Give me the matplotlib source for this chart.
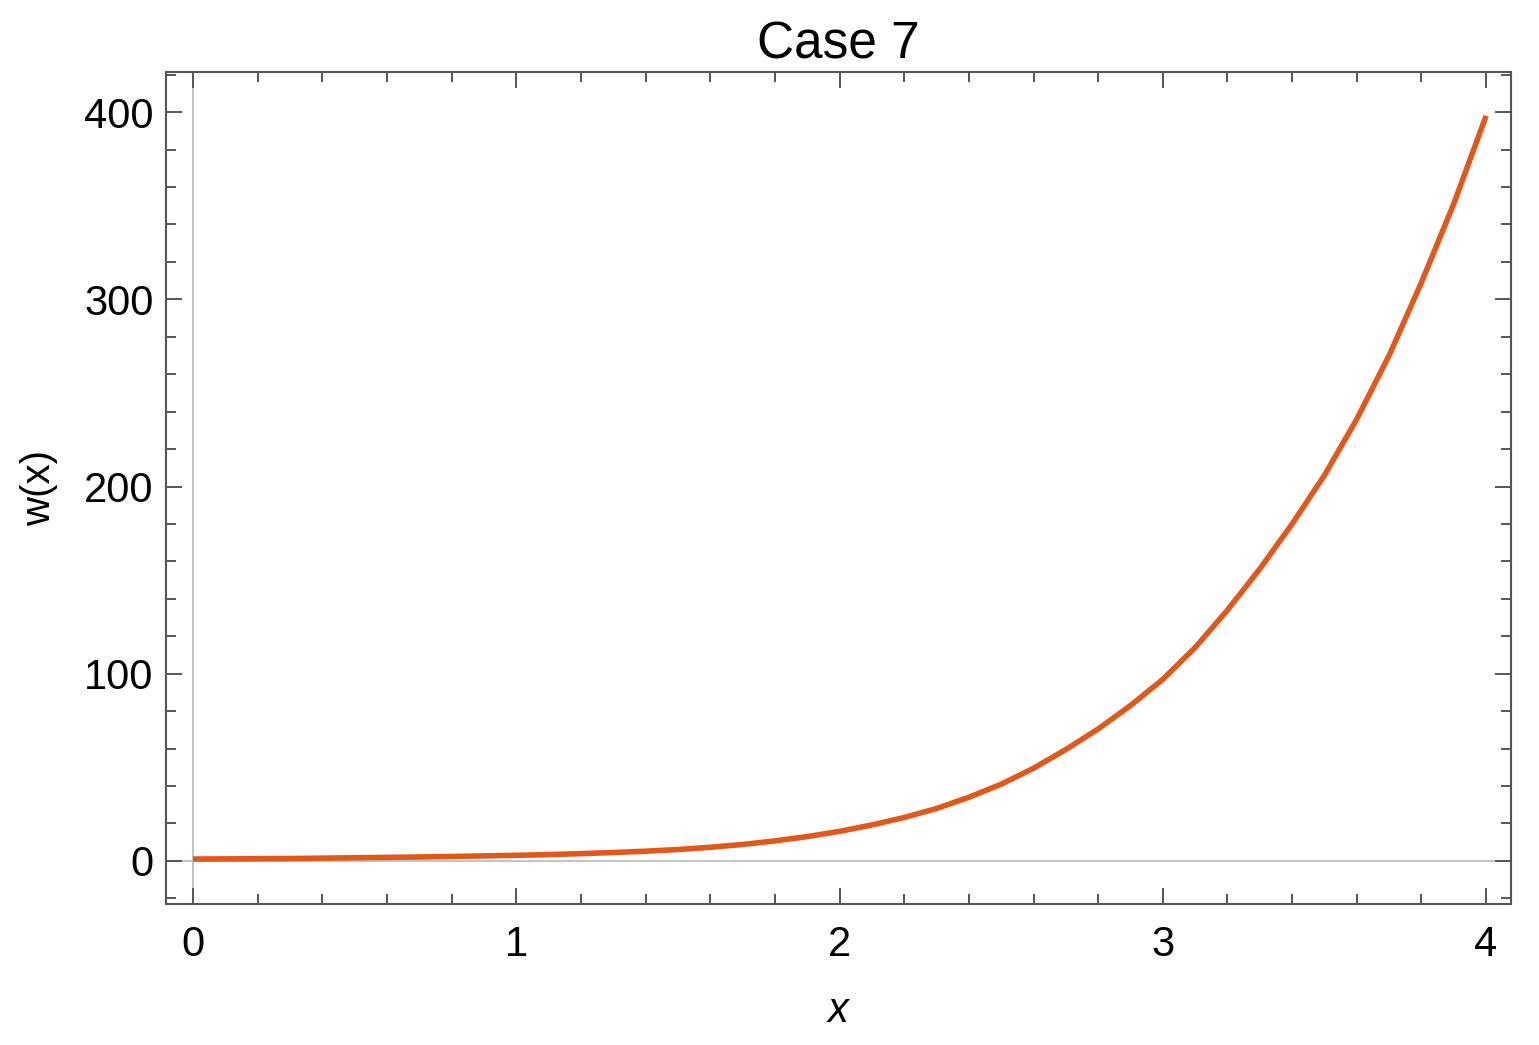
import matplotlib
matplotlib.use('Agg')
import matplotlib.pyplot as plt
from matplotlib.ticker import MultipleLocator

# values (step 0.1)
x_vals = [0.0, 0.1, 0.2, 0.3, 0.4, 0.5, 0.6, 0.7, 0.8, 0.9, 1.0,
          1.1, 1.2, 1.3, 1.4, 1.5, 1.6, 1.7, 1.8, 1.9, 2.0,
          2.1, 2.2, 2.3, 2.4, 2.5, 2.6, 2.7, 2.8, 2.9, 3.0,
          3.1, 3.2, 3.3, 3.4, 3.5, 3.6, 3.7, 3.8, 3.9, 4.0]
w_vals = [1.0, 1.1, 1.2, 1.3, 1.5, 1.7, 1.9, 2.1, 2.4, 2.7, 3.0,
          3.4, 3.9, 4.5, 5.2, 6.1, 7.3, 8.8, 10.7, 13.0, 15.8,
          19.2, 23.2, 28.0, 34.0, 41.0, 49.5, 59.5, 70.5, 83.0, 97.0,
          114.0, 134.0, 156.0, 180.0, 206.0, 236.0, 270.0, 309.0, 351.0, 398.0]

title = 'Case 7'
line_color = '#e0581c'
frame_color = '#555555'

plt.rcParams['font.family'] = ['Liberation Sans', 'DejaVu Sans']

fig = plt.figure(figsize=(15.39, 10.45), dpi=100)
ax = fig.add_axes([166 / 1539, 1 - 904 / 1045, (1511 - 166) / 1539, (904 - 72) / 1045])

# light gray axis lines through the origin
ax.axhline(0, color='#c4c4c4', lw=1.5, zorder=1)
ax.axvline(0, color='#c4c4c4', lw=1.5, zorder=1)

ax.plot(x_vals, w_vals, color=line_color, lw=4.0, solid_capstyle='butt',
        solid_joinstyle='round', zorder=3)

ax.set_xlim(-0.0835, 4.077)
ax.set_ylim(-23, 421.4)

ax.xaxis.set_major_locator(MultipleLocator(1))
ax.xaxis.set_minor_locator(MultipleLocator(0.2))
ax.yaxis.set_major_locator(MultipleLocator(100))
ax.yaxis.set_minor_locator(MultipleLocator(20))

for s in ax.spines.values():
    s.set_color(frame_color)
    s.set_linewidth(1.5)

ax.tick_params(which='both', direction='in', top=True, right=True, color=frame_color, width=1.4)
ax.tick_params(which='major', length=11.5)
ax.tick_params(which='minor', length=7.2)
ax.tick_params(axis='x', which='major', labelsize=30, pad=15)
ax.tick_params(axis='y', which='major', labelsize=30, pad=9)

ax.set_title(title, fontsize=37, pad=10)
ax.set_xlabel('x', fontsize=30, fontstyle='italic')
ax.xaxis.set_label_coords(0.5, -0.105)
ax.set_ylabel('w(x)', fontsize=29)
ax.yaxis.set_label_coords(-0.080, 0.5)

plt.savefig('out.png', dpi=100)
